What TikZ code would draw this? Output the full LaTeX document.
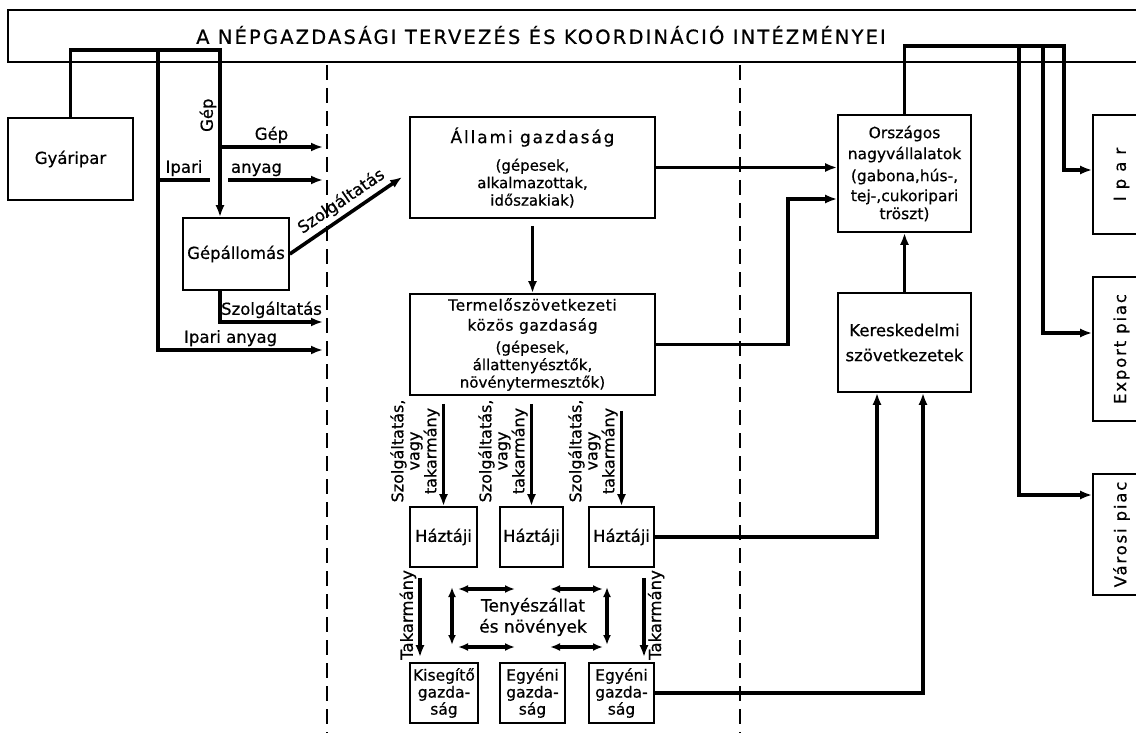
\documentclass[tikz,border=0pt]{standalone}
\usepackage{fontspec}
\setmainfont{DejaVu Sans}[FakeBold=0.6]
\newfontfamily\spaced{DejaVu Sans}[LetterSpace=11,FakeBold=0.6]
\newfontfamily\spacedb{DejaVu Sans}[LetterSpace=4,FakeBold=0.6]
\usetikzlibrary{arrows.meta}
\newcommand{\kicsi}{\fontsize{15}{17.5}\selectfont}
\newcommand{\nagy}{\fontsize{16.5}{19}\selectfont}
\tikzset{
    %Define standard arrow tip
    >={Latex[length=12pt,width=9pt]},
    %Define style for boxes
    doboz/.style={
           rectangle,
           draw=black, line width=1.6pt,
           inner sep=0pt,
           font=\nagy,
           align=center},
    kis/.style={font=\kicsi},
    felirat/.style={
           inner sep=2pt,
           font=\nagy,
           align=center},
    % Define arrow style
    pil/.style={
           ->,
           line width=3.6pt},
    vonal/.style={line width=3.6pt},
    ketpil/.style={
           {Latex[length=10pt,width=8pt]}-{Latex[length=10pt,width=8pt]},
           line width=3.2pt},
    hatar/.style={
           dash pattern=on 15pt off 8pt,
           line width=1.6pt}
}
\begin{document}
\begin{tikzpicture}[x=1pt,y=-1pt]
\useasboundingbox (0,0) rectangle (1136,733);
\clip (0,0) rectangle (1136,733);
% fejlec
\draw[line width=1.6pt] (1150,10) -| (8,62) -- (1150,62);
\node[felirat, font=\spaced\fontsize{19.5}{21}\selectfont] (fejlec) at (541,35)
  {A NÉPGAZDASÁGI TERVEZÉS ÉS KOORDINÁCIÓ INTÉZMÉNYEI};
% hatarok
\draw[hatar] (327,65) -- (327,733);
\draw[hatar] (740,65) -- (740,733);
\coordinate (c1) at (323,147);
\coordinate (c2) at (323,180);
\coordinate (c3) at (323,322);
\coordinate (c4) at (323,350);
% dobozok
\node[doboz, minimum width=125, minimum height=82] (gyaripar) at (70.5,159) {Gyáripar};
\node[doboz, minimum width=106, minimum height=72] (gepall) at (236,254) {Gépállomás};
\node[doboz, kis, minimum width=245, minimum height=101] (allami) at (532.5,167.5)
  {{\spaced\fontsize{17}{19}\selectfont Állami gazdaság}\\[10pt](gépesek,\\alkalmazottak,\\időszakiak)};
\node[doboz, kis, minimum width=245, minimum height=101] (termelo) at (532.5,344.5)
  {{\spacedb\fontsize{15.5}{19}\selectfont Termelőszövetkezeti}\\[2.5pt]{\spacedb\fontsize{15.5}{19}\selectfont közös gazdaság}\\[4.5pt](gépesek,\\állattenyésztők,\\növénytermesztők)};
\node[doboz, font=\fontsize{15.5}{18}\selectfont, minimum width=133, minimum height=117] (orszagos) at (904.5,173.5)
  {Országos\\[3pt]nagyvállalatok\\[4pt](gabona,hús-,\\[2pt]tej-,cukoripari\\tröszt)};
\node[doboz, minimum width=133, minimum height=99] (keresk) at (904.5,342.5) {Kereskedelmi\\[6pt]szövetkezetek};
\node[doboz, minimum width=57, minimum height=119] (ipar) at (1121.5,174.5) {\rotatebox{90}{\spaced I p a r}};
\node[doboz, minimum width=57, minimum height=144] (export) at (1121.5,349) {\rotatebox{90}{\spaced Export piac}};
\node[doboz, minimum width=57, minimum height=121] (varosi) at (1121.5,534.5) {\rotatebox{90}{\spaced Városi piac}};
\node[doboz, minimum width=67, minimum height=60] (haz1) at (443.5,537) {Háztáji};
\node[doboz, minimum width=63, minimum height=60] (haz2) at (531.5,537) {Háztáji};
\node[doboz, minimum width=65, minimum height=60] (haz3) at (621.5,537) {Háztáji};
\node[doboz, font=\fontsize{15.5}{17}\selectfont, minimum width=68, minimum height=60] (kiseg) at (444,693) {Kisegítő\\gazda-\\ság};
\node[doboz, font=\fontsize{15.5}{17}\selectfont, minimum width=65, minimum height=60] (egyeni1) at (532.5,693) {Egyéni\\gazda-\\ság};
\node[doboz, font=\fontsize{15.5}{17}\selectfont, minimum width=65, minimum height=60] (egyeni2) at (621.5,693) {Egyéni\\gazda-\\ság};
\node[felirat, font=\fontsize{17}{21}\selectfont] (tenyesz) at (533,617) {Tenyészállat\\és növények};
% bal oldal
\draw[pil] (gyaripar.north) |- (220,50) -- node[pos=.39, rotate=90, anchor=south, felirat]{Gép} ([xshift=-16pt]gepall.north);
\draw[pil] (158,50) |- node[pos=.72, above, felirat]{Ipari anyag} (c4);
\draw[pil] (220,147) -- node[above, felirat]{Gép} (c1);
\draw[vonal] (158,180) -- node[above, felirat]{Ipari} (210,180);
\draw[pil] (228,180) -- node[pos=.3, above, felirat]{anyag} (c2);
\draw[pil] ([xshift=-16pt]gepall.south) |- node[pos=.75, above, felirat]{Szolgáltatás} (c3);
\draw[pil] (gepall.east) -- node[pos=.53, above=2pt, sloped, felirat]{Szolgáltatás} ([shift={(-7pt,-9.5pt)}]allami.west);
% kozep
\draw[pil, shorten <=7pt] (allami.south) -- (termelo.north);
\draw[pil] (allami.east) -- (allami.east -| orszagos.west);
\draw[pil] (termelo.east) -- ++(132,0) |- ([yshift=-25.5pt]orszagos.west);
\draw[pil, shorten <=8pt] (termelo.south -| haz1.north) -- node[midway, rotate=90, anchor=south, felirat, font=\fontsize{16}{16}\selectfont]{Szolgáltatás,\\vagy\\takarmány} (haz1.north);
\draw[pil, shorten <=8pt] (termelo.south -| haz2.north) -- node[midway, rotate=90, anchor=south, felirat, font=\fontsize{16}{16}\selectfont]{Szolgáltatás,\\vagy\\takarmány} (haz2.north);
\draw[pil, shorten <=15pt] (termelo.south -| haz3.north) -- node[midway, rotate=90, anchor=south, felirat, font=\fontsize{16}{16}\selectfont]{Szolgáltatás,\\vagy\\takarmány} (haz3.north);
\draw[pil, shorten <=10pt, shorten >=5pt] ([xshift=-23.5pt]haz1.south) -- node[midway, rotate=90, anchor=south, felirat]{Takarmány} ([xshift=-24pt]kiseg.north);
\draw[pil, shorten <=10pt, shorten >=5pt] ([xshift=22.5pt]haz3.south) -- node[midway, rotate=90, anchor=north, felirat]{Takarmány} ([xshift=22.5pt]egyeni2.north);
\draw[ketpil] (458,589) -- (515,589);
\draw[ketpil] (550,589) -- (603,589);
\draw[ketpil] (458,647) -- (515,647);
\draw[ketpil] (550,647) -- (603,647);
\draw[ketpil] (452,587) -- (452,645);
\draw[ketpil] (607,587) -- (607,645);
% jobb oldal
\draw[pil] (keresk.north) -- (orszagos.south);
\draw[pil] (haz3.east) -| ([xshift=-27.5pt]keresk.south);
\draw[pil] (egyeni2.east) -| ([xshift=18.5pt]keresk.south);
\draw[pil] (orszagos.north) |- (1064,46) |- ([yshift=4.5pt]ipar.west);
\draw[pil] (1019,46) |- ([yshift=39.5pt]varosi.west);
\draw[pil] (1043,46) |- ([yshift=16pt]export.west);
\end{tikzpicture}
\end{document}
